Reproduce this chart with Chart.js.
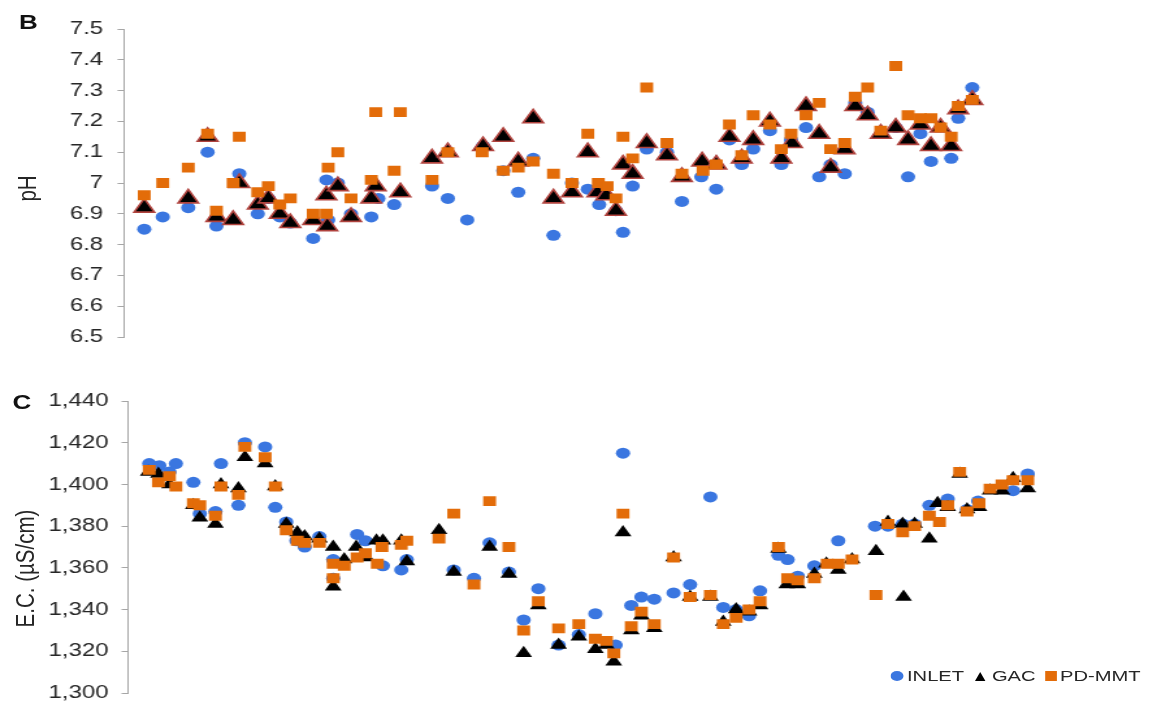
<!DOCTYPE html>
<html lang="en">
<head>
<meta charset="utf-8">
<title>pH and E.C. by sampling day</title>
<script src="https://cdn.jsdelivr.net/npm/chart.js@4.4.0/dist/chart.umd.min.js"></script>
<style>
  html, body { margin: 0; padding: 0; background: #fff; }
  body { width: 1157px; height: 707px; overflow: hidden; position: relative; }
  /* the figure is laid out 890px wide and stretched to the page width */
  #sheet { position: absolute; left: 0; top: 0; width: 890px; height: 707px;
           transform: scaleX(1.3); transform-origin: 0 0;
           font-family: "Liberation Sans", Arial, sans-serif; color: #262626; }
  #sheet canvas { position: absolute; left: 0; }
  #cvPh { top: 0; }
  #cvEc { top: 370px; }
  .panel { position: absolute; font-weight: bold; font-size: 20px; line-height: 20px; color: #111; }
  .ytitle { position: absolute; width: 200px; height: 21px; line-height: 21px; font-size: 20.5px;
            text-align: center; transform: rotate(-90deg); white-space: nowrap; }
  .key { position: absolute; top: 668.4px; font-size: 15.5px; line-height: 15.5px; white-space: nowrap; }
  .mk { position: absolute; }
</style>
</head>
<body>
<div id="sheet">
  <canvas id="cvPh" width="890" height="360"></canvas>
  <canvas id="cvEc" width="890" height="346"></canvas>

  <div class="panel" style="left:14.7px; top:12.2px;">B</div>
  <div class="panel" style="left:9.7px; top:392.2px;">C</div>

  <div class="ytitle" style="left:-80px; top:177.5px;">pH</div>
  <div class="ytitle" style="left:-81px; top:557.5px;">E.C. (µS/cm)</div>

  <!-- legend -->
  <div class="mk" style="left:684.8px; top:671px; width:10px; height:10px; border-radius:50%; background:#3a76e0;"></div>
  <div class="key" style="left:697.7px;">INLET</div>
  <div class="mk" style="left:749.8px; top:671.5px; width:0; height:0; border-left:4px solid transparent; border-right:4px solid transparent; border-bottom:9px solid #000;"></div>
  <div class="key" style="left:763px;">GAC</div>
  <div class="mk" style="left:804px; top:671px; width:9px; height:10px; background:#e36c09;"></div>
  <div class="key" style="left:815.4px;">PD-MMT</div>
</div>

<script>
// pH, sampling day vs reading
const phInletDay = [2.3,4.4,7.3,9.5,10.5,13.1,15.2,16.4,17.7,18.9,21.5,23.0,23.2,24.3,25.8,28.1,28.9,30.7,35.0,36.8,39.0,40.8,43.1,44.8,46.5,48.8,50.9,52.7,54.0,55.9,56.7,57.8,59.4,61.7,63.4,65.6,67.3,68.8,70.2,71.5,73.4,74.7,75.8,77.5,79.0,80.3,81.9,83.1,84.5,87.7,89.1,90.5,91.7,94.0,94.8,96.4];
const phInlet = [6.85,6.89,6.92,7.10,6.86,7.03,6.90,6.95,6.89,6.87,6.82,7.01,6.88,7.00,6.90,6.89,6.95,6.93,6.99,6.95,6.88,7.12,7.04,6.97,7.08,6.83,7.00,6.98,6.93,6.91,6.84,6.99,7.11,7.10,6.94,7.02,6.98,7.14,7.06,7.11,7.17,7.06,7.14,7.18,7.02,7.06,7.03,7.26,7.23,7.18,7.02,7.16,7.07,7.08,7.21,7.31];

const phGacDay = [2.3,7.3,9.5,10.5,12.4,13.1,15.2,16.4,17.7,18.9,21.5,23.0,23.1,24.3,25.8,28.1,28.6,31.4,35.0,36.8,40.8,43.1,44.8,46.5,48.8,50.9,52.7,53.8,54.8,55.9,56.7,57.8,59.4,61.7,63.4,65.7,67.3,68.8,70.2,71.5,73.4,74.7,75.9,77.5,79.0,80.3,81.9,83.1,84.5,86.0,87.7,89.1,90.5,91.7,92.8,94.0,94.8,96.4];
const phGac = [6.92,6.95,7.15,6.89,6.88,7.00,6.93,6.95,6.90,6.87,6.88,6.96,6.86,6.99,6.89,6.95,6.99,6.97,7.08,7.10,7.12,7.15,7.07,7.21,6.95,6.97,7.10,6.97,6.96,6.91,7.06,7.03,7.13,7.09,7.02,7.07,7.06,7.15,7.08,7.14,7.20,7.08,7.13,7.25,7.16,7.05,7.11,7.25,7.22,7.16,7.18,7.14,7.19,7.12,7.18,7.12,7.24,7.27];

const phPdDay = [2.3,4.4,7.3,9.5,10.5,12.4,13.1,15.2,16.4,17.7,18.9,21.5,23.0,23.2,24.3,25.8,28.1,28.6,30.7,31.4,35.0,36.8,40.7,43.1,44.8,46.5,48.8,50.9,52.7,53.9,54.9,55.9,56.7,57.8,59.4,61.7,63.4,65.8,67.3,68.8,70.2,71.5,73.4,74.7,75.8,77.5,79.0,80.3,81.9,83.1,84.5,86.0,87.7,89.1,90.5,91.7,92.8,94.0,94.8,96.4];
const phPd = [6.96,7.00,7.05,7.16,6.91,7.00,7.15,6.97,6.99,6.93,6.95,6.90,6.90,7.05,7.10,6.95,7.01,7.23,7.04,7.23,7.01,7.10,7.10,7.04,7.05,7.07,7.03,7.00,7.16,7.00,6.99,6.95,7.15,7.08,7.31,7.13,7.03,7.04,7.06,7.19,7.09,7.22,7.19,7.11,7.16,7.22,7.26,7.11,7.13,7.28,7.31,7.17,7.38,7.22,7.21,7.21,7.18,7.15,7.25,7.27];

// electrical conductivity, µS/cm
const ecInletDay = [2.3,3.4,4.5,5.2,7.1,7.8,9.5,10.1,12.0,12.7,14.9,16.0,17.2,18.3,19.2,20.8,22.3,22.3,24.9,25.8,27.7,29.7,30.3,35.4,37.6,39.3,41.4,43.0,44.6,46.8,49.0,50.8,53.0,53.8,54.7,55.8,57.2,59.3,61.1,63.3,64.7,66.1,67.5,68.7,70.7,71.7,72.8,74.6,77.2,81.2,82.6,84.2,85.5,87.1,89.1,91.2,92.4,96.2,97.8];
const ecInlet = [1410,1409,1406,1410,1401,1386,1387,1410,1390,1420,1418,1389,1382,1373,1370,1375,1364,1355,1376,1373,1361,1359,1364,1359,1355,1372,1358,1335,1350,1323,1328,1338,1323,1415,1342,1346,1345,1348,1352,1394,1341,1340,1337,1349,1366,1364,1356,1361,1373,1380,1380,1381,1381,1390,1393,1388,1392,1397,1405];

const ecGacDay = [2.2,3.3,4.5,7.1,7.8,9.5,10.1,12.0,12.7,14.9,16.0,17.2,18.4,19.2,20.8,22.3,22.3,23.5,24.8,25.9,27.0,27.7,29.7,30.3,33.8,35.4,39.3,41.4,43.0,44.6,46.8,49.0,50.8,52.0,52.8,53.8,54.7,55.8,57.2,59.3,61.1,63.3,64.7,66.1,67.5,68.7,70.7,71.6,72.8,74.6,75.9,77.2,78.7,81.3,82.6,84.2,84.3,85.5,87.1,88.0,89.1,90.4,91.2,92.5,93.7,95.0,96.2,97.8];
const ecGac = [1406,1405,1400,1390,1384,1381,1400,1398,1413,1410,1399,1381,1377,1375,1374,1370,1351,1364,1370,1365,1373,1373,1373,1363,1378,1358,1370,1357,1319,1342,1323,1327,1321,1323,1315,1377,1330,1337,1331,1365,1346,1346,1334,1340,1339,1342,1369,1352,1352,1357,1362,1359,1364,1368,1382,1381,1346,1381,1374,1391,1389,1405,1388,1389,1397,1397,1403,1398];

const ecPdDay = [2.3,3.3,4.5,5.2,7.1,7.8,9.5,10.1,12.0,12.7,14.9,16.0,17.2,18.4,19.2,20.8,22.3,22.3,23.5,24.9,25.8,27.1,27.6,29.7,30.3,33.8,35.4,37.6,39.3,41.4,43.0,44.6,46.8,49.0,50.8,52.0,52.8,53.8,54.7,55.8,57.2,59.3,61.1,63.3,64.7,66.1,67.5,68.7,70.7,71.7,72.8,74.6,76.0,77.2,78.7,81.3,82.6,84.2,85.5,87.1,88.2,89.1,90.4,91.2,92.5,93.7,95.0,96.2,97.8];
const ecPd = [1407,1401,1404,1399,1391,1390,1385,1399,1395,1418,1413,1399,1378,1373,1372,1372,1362,1355,1361,1365,1367,1362,1370,1371,1373,1374,1386,1352,1392,1370,1330,1344,1331,1333,1326,1325,1319,1386,1332,1339,1333,1365,1346,1347,1333,1336,1340,1344,1370,1355,1354,1355,1362,1362,1364,1347,1381,1377,1380,1385,1382,1390,1406,1387,1391,1398,1400,1402,1402];

const blue = '#3a76e0';
const orange = '#e36c09';
const gacEdge = '#b0433e';
const axisGrey = '#a6a6a6';
const fontFamily = '"Liberation Sans", Arial, sans-serif';

const pts = (xs, ys) => xs.map((x, i) => ({ x: x, y: ys[i] }));

function scatterChart(canvasId, datasets, yScale, padding, axisWidth) {
  return new Chart(document.getElementById(canvasId), {
    type: 'scatter',
    data: { datasets: datasets },
    options: {
      responsive: false,
      animation: false,
      events: [],
      layout: { padding: padding },
      plugins: { legend: { display: false }, tooltip: { enabled: false } },
      scales: {
        x: { type: 'linear', display: false, min: 0, max: 100 },
        y: Object.assign({
          type: 'linear',
          position: 'left',
          afterFit: (scale) => { scale.width = axisWidth; },
          grid: { drawOnChartArea: false, drawTicks: true, tickLength: 5, color: axisGrey },
          border: { display: true, color: axisGrey, width: 1 }
        }, yScale)
      }
    }
  });
}

// panel B: pH
scatterChart('cvPh', [
  { label: 'INLET', data: pts(phInletDay, phInlet), order: 3,
    pointStyle: 'circle', pointRadius: 5.5, pointBackgroundColor: blue, pointBorderWidth: 0 },
  { label: 'GAC', data: pts(phGacDay, phGac), order: 2,
    pointStyle: 'triangle', pointRadius: 9, pointBackgroundColor: '#000', pointBorderColor: gacEdge, pointBorderWidth: 1.6 },
  { label: 'PD-MMT', data: pts(phPdDay, phPd), order: 1,
    pointStyle: 'rect', pointRadius: 7, pointBackgroundColor: orange, pointBorderWidth: 0 }
], {
  min: 6.5, max: 7.5,
  ticks: { color: '#262626', autoSkip: false, padding: 11, stepSize: 0.1,
           font: { family: fontFamily, size: 18.5 },
           callback: (v) => String(Math.round(v * 10) / 10) }
}, { left: 0, top: 29, right: 117.7, bottom: 23 }, 95.4);

// panel C: E.C.
scatterChart('cvEc', [
  { label: 'INLET', data: pts(ecInletDay, ecInlet), order: 3,
    pointStyle: 'circle', pointRadius: 5.5, pointBackgroundColor: blue, pointBorderWidth: 0 },
  { label: 'GAC', data: pts(ecGacDay, ecGac), order: 2,
    pointStyle: 'triangle', pointRadius: 7.5, pointBackgroundColor: '#000', pointBorderWidth: 0 },
  { label: 'PD-MMT', data: pts(ecPdDay, ecPd), order: 1,
    pointStyle: 'rect', pointRadius: 7, pointBackgroundColor: orange, pointBorderWidth: 0 }
], {
  min: 1300, max: 1440,
  ticks: { color: '#262626', autoSkip: false, padding: 10, stepSize: 20,
           font: { family: fontFamily, size: 18.5 },
           callback: (v) => v.toLocaleString('en-US') }
}, { left: 0, top: 31, right: 83.85, bottom: 23 }, 98.5);
</script>
</body>
</html>
